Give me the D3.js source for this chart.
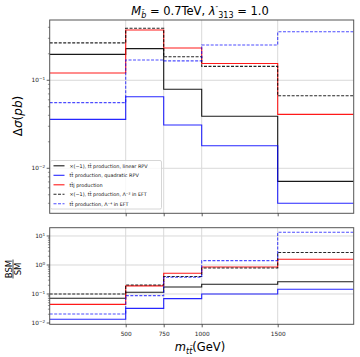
<!DOCTYPE html>
<html>
<head>
<meta charset="utf-8">
<script src="https://cdn.jsdelivr.net/npm/d3@7"></script>
<style>
  body { margin: 0; background: #fff; }
  text { font-family: "DejaVu Sans", sans-serif; }
</style>
</head>
<body>
<div id="chart"></div>
<script>
// bin edges in m_tt (GeV)
const edges = [0, 500, 750, 1000, 1500, 2000];
const xTicks = [500, 750, 1000, 1500];

// top panel: delta sigma (pb)
const linRPV  = [0.197, 0.229, 0.079, 0.039, 0.0071];
const quadRPV = [0.036, 0.065, 0.031, 0.018, 0.0040];
const ttj     = [0.121, 0.373, 0.233, 0.155, 0.041];
const eft2    = [0.266, 0.390, 0.185, 0.144, 0.0668];
const eft4    = [0.0557, 0.170, 0.166, 0.252, 0.356];

// bottom panel: BSM / SM
const linRPVr  = [0.071, 0.115, 0.174, 0.216, 0.265];
const quadRPVr = [0.0134, 0.032, 0.069, 0.100, 0.145];
const ttjr     = [0.044, 0.19, 0.52, 0.85, 1.57];
const eft2r    = [0.100, 0.204, 0.40, 0.79, 2.7];
const eft4r    = [0.0205, 0.088, 0.377, 1.41, 13.4];

const legendLabels = [
  "×(−1), tt̄ production, linear RPV",
  "tt̄ production, quadratic RPV",
  "tt̄j production",
  "×(−1), tt̄ production, Λ⁻² in EFT",
  "tt̄ production, Λ⁻⁴ in EFT"
];

const styles = [
  {color: "#000", dash: null, op: 0.9},
  {color: "#0000ff", dash: null, op: 0.85},
  {color: "#ff0000", dash: null, op: 0.9},
  {color: "#000", dash: "3,1.5", op: 0.85},
  {color: "#0000ff", dash: "3,1.5", op: 0.7}
];

const width = 360, height = 357;
const svg = d3.select("#chart").append("svg")
    .attr("width", width)
    .attr("height", height);

const x = d3.scaleLinear().domain([0, 2000]).range([49.7, 353.7]);
const yTop = d3.scaleLog().domain([0.00308, 0.484]).range([213.3, 20]);
const yBot = d3.scaleLog().domain([0.00902, 19.3]).range([324.3, 227.7]);

function stepPoints(vals) {
  const pts = vals.map((v, i) => [edges[i], v]);
  pts.push([edges[edges.length - 1], vals[vals.length - 1]]);
  return pts;
}

function drawPanel(y, series, decades, showXLabels, clipId) {
  const [y0, y1] = y.range();
  const g = svg.append("g");

  g.append("clipPath").attr("id", clipId)
    .append("rect")
    .attr("x", x(0)).attr("y", y1)
    .attr("width", x(2000) - x(0)).attr("height", y0 - y1);

  // grid
  g.selectAll(".vg").data(xTicks).enter().append("line")
    .attr("x1", d => x(d)).attr("x2", d => x(d))
    .attr("y1", y1).attr("y2", y0)
    .attr("stroke", "#d9d9d9").attr("stroke-width", 1);
  g.selectAll(".hg").data(decades).enter().append("line")
    .attr("x1", x(0)).attr("x2", x(2000))
    .attr("y1", d => y(d)).attr("y2", d => y(d))
    .attr("stroke", "#d9d9d9").attr("stroke-width", 1);

  // step lines
  const line = d3.line()
    .x(d => x(d[0])).y(d => y(d[1]))
    .curve(d3.curveStepAfter);
  const lg = g.append("g").attr("clip-path", `url(#${clipId})`);
  series.forEach((vals, i) => {
    const s = styles[i];
    lg.append("path")
      .attr("d", line(stepPoints(vals)))
      .attr("fill", "none")
      .attr("stroke", s.color)
      .attr("stroke-opacity", s.op)
      .attr("stroke-width", 1.1)
      .attr("stroke-dasharray", s.dash);
  });

  // frame
  g.append("rect")
    .attr("x", x(0)).attr("y", y1)
    .attr("width", x(2000) - x(0)).attr("height", y0 - y1)
    .attr("fill", "none").attr("stroke", "#555").attr("stroke-width", 1);

  // x ticks
  const xAxis = g.append("g").attr("transform", `translate(0,${y0})`)
    .call(d3.axisBottom(x).tickValues(xTicks).tickSize(3)
      .tickFormat(showXLabels ? d3.format("d") : () => ""));
  xAxis.select(".domain").remove();
  xAxis.selectAll("line").attr("stroke", "#333").attr("stroke-width", 0.8);
  xAxis.selectAll("text").attr("font-size", 5.8).attr("fill", "#222")
    .attr("font-family", "DejaVu Sans").attr("dy", "0.9em");

  // y minor ticks
  const [lo, hi] = y.domain();
  const minors = [];
  for (let e = Math.floor(Math.log10(lo)); e <= Math.ceil(Math.log10(hi)); e++) {
    for (let m = 2; m <= 9; m++) {
      const v = m * Math.pow(10, e);
      if (v >= lo && v <= hi) minors.push(v);
    }
  }
  g.selectAll(".mt").data(minors).enter().append("line")
    .attr("x1", x(0)).attr("x2", x(0) - 1.8)
    .attr("y1", d => y(d)).attr("y2", d => y(d))
    .attr("stroke", "#333").attr("stroke-width", 0.5);

  // y major ticks + labels
  const allMajors = [];
  for (let e = -3; e <= 2; e++) {
    const v = Math.pow(10, e);
    if (v >= lo * 0.999 && v <= hi) allMajors.push(e);
  }
  const mj = g.selectAll(".mj").data(allMajors).enter().append("g")
    .attr("transform", d => `translate(${x(0)},${y(Math.pow(10, d))})`);
  mj.append("line").attr("x1", 0).attr("x2", -3)
    .attr("stroke", "#333").attr("stroke-width", 0.8);
  const lbl = mj.append("text")
    .attr("x", -4.5).attr("y", 2)
    .attr("text-anchor", "end")
    .attr("font-size", 5.8).attr("fill", "#222");
  lbl.append("tspan").text("10");
  lbl.append("tspan").attr("dy", -2.3).attr("font-size", 4.2)
    .text(d => d < 0 ? "−" + (-d) : String(d));
}

drawPanel(yTop, [linRPV, quadRPV, ttj, eft2, eft4], [0.1, 0.01], false, "clipTop");
drawPanel(yBot, [linRPVr, quadRPVr, ttjr, eft2r, eft4r], [10, 1, 0.1], true, "clipBot");

// legend
const leg = svg.append("g").attr("transform", "translate(50.5,160.5)");
leg.append("rect")
  .attr("width", 111).attr("height", 48.5).attr("rx", 1.5)
  .attr("fill", "#fff").attr("fill-opacity", 0.8)
  .attr("stroke", "#ccc").attr("stroke-width", 0.8);
legendLabels.forEach((t, i) => {
  const s = styles[i];
  const yy = 5.3 + i * 9.5;
  leg.append("line")
    .attr("x1", 3).attr("x2", 14).attr("y1", yy).attr("y2", yy)
    .attr("stroke", s.color).attr("stroke-opacity", s.op)
    .attr("stroke-width", 1.1).attr("stroke-dasharray", s.dash);
  leg.append("text")
    .attr("x", 19).attr("y", yy + 1.7)
    .attr("font-size", 4.9).attr("fill", "#111")
    .text(t);
});

// title
const title = svg.append("text")
  .attr("x", 200).attr("y", 15)
  .attr("text-anchor", "middle")
  .attr("font-size", 11.5).attr("fill", "#000");
title.append("tspan").attr("font-style", "italic").text("M");
title.append("tspan").attr("font-size", 8).attr("dy", 2.5).attr("font-style", "italic").text("b̃");
title.append("tspan").attr("dy", -2.5).text(" = 0.7TeV, ");
title.append("tspan").attr("font-style", "italic").text("λ");
title.append("tspan").attr("font-size", 7).attr("dy", -4.5).text("″");
title.append("tspan").attr("font-size", 8).attr("dy", 7.5).text("313");
title.append("tspan").attr("dy", -3).text(" = 1.0");

// y label top
const yl = svg.append("text")
  .attr("transform", "translate(22,116) rotate(-90)")
  .attr("text-anchor", "middle")
  .attr("font-size", 12).attr("fill", "#000");
yl.append("tspan").text("Δ");
yl.append("tspan").attr("font-style", "italic").text("σ");
yl.append("tspan").text("(");
yl.append("tspan").attr("font-style", "italic").text("pb");
yl.append("tspan").text(")");

// y label bottom (fraction)
const fr = svg.append("g").attr("transform", "translate(13,269) rotate(-90)");
fr.append("text").attr("x", 0).attr("y", -1.5)
  .attr("text-anchor", "middle").attr("font-size", 8.5).text("BSM");
fr.append("line").attr("x1", -9.5).attr("x2", 9.5).attr("y1", 0).attr("y2", 0)
  .attr("stroke", "#000").attr("stroke-width", 0.7);
fr.append("text").attr("x", 0).attr("y", 7.5)
  .attr("text-anchor", "middle").attr("font-size", 8.5).text("SM");

// x label
const xl = svg.append("text")
  .attr("x", 200).attr("y", 351)
  .attr("text-anchor", "middle")
  .attr("font-size", 11.5).attr("fill", "#000");
xl.append("tspan").attr("font-style", "italic").text("m");
xl.append("tspan").attr("font-size", 8).attr("dy", 2.5).attr("font-style", "italic").text("tt̄");
xl.append("tspan").attr("dy", -2.5).text("(GeV)");
</script>
</body>
</html>
